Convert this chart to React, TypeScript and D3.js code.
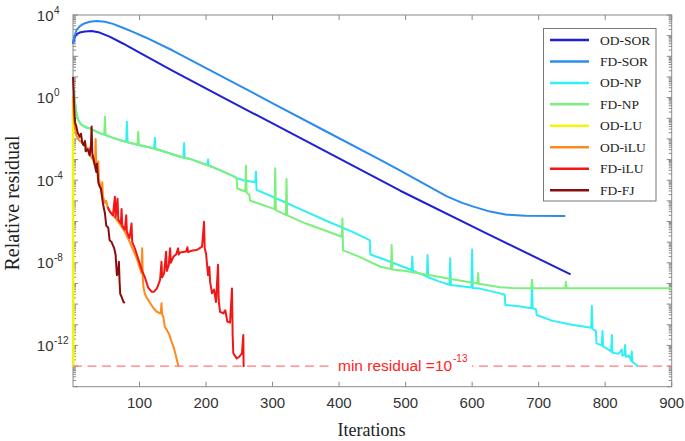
import { useEffect, useRef } from 'react';
import * as d3 from 'd3';

// every series: [iteration, log10(relative residual)]
const odSor: [number, number][] = [
  [0, 2.62], [2, 2.9], [5, 3.06], [10, 3.15], [18, 3.2], [28, 3.22], [40, 3.15], [55, 2.95],
  [75, 2.62], [100, 2.18], [150, 1.3], [233, -0.12], [350, -2.1], [492, -4.51], [620, -6.55], [748, -8.56],
];
const fdSor: [number, number][] = [
  [0, 2.6], [2, 2.95], [5, 3.25], [10, 3.45], [16, 3.58], [25, 3.67], [36, 3.71], [48, 3.67],
  [60, 3.57], [75, 3.38], [90, 3.18], [110, 2.9], [150, 2.28], [200, 1.43], [291, -0.12], [380, -1.63],
  [462, -3.02], [492, -3.54], [530, -4.22], [562, -4.78], [585, -5.1], [602, -5.28], [627, -5.52],
  [652, -5.67], [680, -5.72], [740, -5.73],
];
const odNp: [number, number][] = [
  [1, 0.5], [3, -0.2], [5, -0.75], [8, -1.1], [12, -1.3], [18, -1.42], [26, -1.5], [40, -1.72],
  [60, -1.95], [75, -2.1], [80, -2.15], [81, -1.17], [82, -2.16], [97, -2.28], [116, -2.42], [122, -2.47],
  [123, -1.96], [124, -2.48], [140, -2.65], [160, -2.85], [166, -2.9], [167, -2.2], [168, -2.91],
  [176, -2.97], [200, -3.25], [202, -3.27], [203, -3.0], [204, -3.28], [220, -3.5], [241, -3.8],
  [246, -3.9], [256, -4.0], [274, -4.1], [275, -3.59], [276, -4.47], [300, -4.8], [340, -5.38],
  [380, -5.95], [420, -6.5], [446, -6.9], [447, -7.6], [462, -7.77], [509, -8.35], [510, -7.7],
  [511, -8.38], [532, -8.67], [533, -7.62], [534, -8.7], [550, -8.9], [566, -9.06], [567, -7.78],
  [568, -9.07], [599, -9.2], [600, -7.35], [601, -9.22], [612, -9.25], [642, -9.48], [649, -9.55],
  [650, -10.04], [670, -10.1], [689, -10.2], [690, -8.83], [691, -10.2], [696, -10.25], [697, -10.53],
  [720, -10.8], [750, -11.0], [779, -11.15], [780, -10.09], [781, -11.2], [786, -11.3], [787, -11.9],
  [795, -12.0], [796, -11.3], [797, -12.05], [805, -12.2], [809, -12.3], [810, -11.5], [811, -12.35],
  [820, -12.4], [825, -12.2], [826, -12.5], [829, -12.45], [830, -11.98], [831, -12.55], [836, -12.5],
  [839, -12.75], [840, -12.3], [841, -12.8], [845, -12.9], [850, -13.03],
];
const fdNp: [number, number][] = [
  [1, 0.5], [3, -0.2], [5, -0.75], [8, -1.1], [12, -1.3], [18, -1.42], [26, -1.5], [40, -1.72],
  [47, -1.78], [48, -0.93], [49, -1.8], [60, -1.95], [75, -2.1], [97, -2.28], [98, -1.65], [99, -2.3],
  [116, -2.42], [140, -2.65], [160, -2.85], [176, -2.97], [200, -3.25], [220, -3.5], [241, -3.8],
  [246, -3.9], [247, -4.4], [259, -4.55], [260, -3.3], [261, -4.6], [265, -4.7], [266, -4.98],
  [303, -5.4], [304, -3.42], [305, -5.45], [320, -5.68], [321, -3.94], [322, -5.7], [350, -6.1],
  [380, -6.45], [404, -6.74], [405, -5.85], [406, -7.4], [430, -7.7], [462, -8.19], [478, -8.3],
  [479, -7.14], [480, -8.32], [500, -8.4], [537, -8.6], [570, -8.8], [608, -9.0], [609, -8.5],
  [610, -9.02], [642, -9.18], [660, -9.22], [689, -9.23], [690, -8.83], [691, -9.23], [740, -9.23],
  [741, -8.92], [742, -9.23], [900, -9.23],
];
const odLu: [number, number][] = [[0, 0], [0.6, -13.05]];
const odIlu: [number, number][] = [
  [0, 0.05], [1, -0.8], [3, -1.5], [5, -1.85], [8, -2.0], [10, -2.1], [13, -2.15], [15, -2.25],
  [18, -2.15], [20, -2.4], [22, -2.5], [24, -2.45], [26, -2.8], [28, -2.9], [30, -3.0], [32, -3.2],
  [33, -3.3], [34, -2.0], [35, -3.4], [37, -3.6], [38, -3.1], [39, -3.9], [41, -4.3], [43, -4.6],
  [44, -4.1], [45, -4.8], [48, -5.1], [50, -5.0], [52, -5.3], [56, -5.55], [60, -5.7], [63, -5.8],
  [66, -5.93], [70, -6.1], [72, -6.2], [75, -6.35], [78, -6.5], [81, -6.7], [84, -6.9], [88, -7.2],
  [92, -7.5], [96, -7.8], [100, -8.2], [103, -8.5], [104, -7.3], [105, -8.8], [106, -9.2], [108, -9.5],
  [111, -9.7], [115, -9.9], [121, -10.2], [126, -10.37], [131, -10.45], [132, -10.4], [133, -9.96],
  [134, -10.5], [136, -10.65], [138, -11.1], [141, -11.25], [145, -11.5], [148, -11.8], [151, -12.06],
  [154, -12.4], [156, -12.7], [159, -13.05],
];
const fdIlu: [number, number][] = [
  [52, -5.3], [56, -5.55], [60, -5.7], [63, -4.8], [64, -5.8], [67, -4.9], [68, -5.9], [72, -6.1],
  [73, -5.4], [74, -6.2], [78, -6.4], [80, -5.7], [81, -6.5], [85, -6.8], [88, -6.1], [89, -7.0],
  [93, -7.3], [96, -7.6], [100, -8.0], [104, -8.4], [108, -8.7], [113, -9.2], [118, -9.4], [122, -9.4],
  [126, -9.25], [129, -9.0], [131, -8.8], [133, -7.95], [134, -8.7], [137, -8.5], [140, -7.46],
  [141, -8.4], [144, -8.1], [146, -7.3], [147, -8.0], [151, -7.7], [155, -7.6], [158, -7.3], [159, -7.6],
  [161, -7.5], [170, -7.45], [172, -7.25], [173, -7.48], [180, -7.4], [186, -7.38], [190, -7.3],
  [194, -7.22], [197, -6.01], [198, -7.3], [200, -7.55], [203, -8.6], [205, -8.2], [206, -8.9],
  [209, -9.48], [212, -9.3], [215, -9.9], [218, -8.1], [219, -9.8], [221, -10.37], [226, -10.45],
  [229, -10.3], [232, -10.85], [236, -10.9], [239, -9.24], [240, -11.5], [241, -12.38], [246, -12.63],
  [250, -12.55], [254, -12.38], [256, -11.5], [256.5, -13.05],
];
const fdFj: [number, number][] = [
  [0, 1.0], [1, 0.3], [2, -0.6], [3, -1.2], [5, -1.4], [7, -1.7], [10, -1.9], [12, -1.75], [14, -2.2],
  [16, -2.3], [18, -2.1], [19, -2.6], [22, -2.5], [25, -2.8], [27, -2.3], [28, -1.4], [29, -2.7],
  [31, -3.0], [33, -3.3], [35, -3.6], [36, -3.2], [38, -4.1], [40, -4.3], [42, -4.4], [44, -4.9],
  [46, -5.3], [48, -5.6], [50, -6.2], [53, -6.3], [55, -6.9], [58, -7.0], [62, -7.3], [64, -7.6],
  [66, -8.6], [68, -8.4], [69, -7.95], [70, -8.9], [71, -9.5], [73, -9.65], [76, -9.9], [78, -9.95],
];

const seriesNames = ['OD-SOR', 'FD-SOR', 'OD-NP', 'FD-NP', 'OD-LU', 'OD-iLU', 'FD-iLU', 'FD-FJ'];
const seriesData = [odSor, fdSor, odNp, fdNp, odLu, odIlu, fdIlu, fdFj];
const seriesColors = ['#1f1fd6', '#2b8cf0', '#2ff0f5', '#7cf07c', '#f5f50a', '#ff8a1c', '#f21616', '#8a0c0c'];

const xTicks = [100, 200, 300, 400, 500, 600, 700, 800, 900];
const yLabelExps = [4, 0, -4, -8, -12];
const minResidualExp = -13;

const App = () => {
  const chartRef = useRef<SVGSVGElement>(null);

  useEffect(() => {
    if (!chartRef.current) return;
    const svg = d3.select(chartRef.current);
    svg.selectAll('*').remove();

    const left = 73, right = 671.7, top = 15, bottom = 386.7;
    const x = d3.scaleLinear().domain([0, 900]).range([left, right]);
    const y = d3.scaleLog().domain([1e-14, 1e4]).range([bottom, top]);
    const axisColor = '#8a8a8a';
    const sans = '"Liberation Sans", Arial, sans-serif';
    const serif = '"Liberation Serif", "Times New Roman", serif';

    svg.append('rect').attr('width', 685).attr('height', 441).attr('fill', '#fff');

    // box
    svg.append('rect')
      .attr('x', left).attr('y', top)
      .attr('width', right - left).attr('height', bottom - top)
      .attr('fill', 'none').attr('stroke', axisColor).attr('stroke-width', 1);

    // x ticks (bottom and top, inward)
    const g = svg.append('g').attr('stroke', axisColor).attr('stroke-width', 1);
    xTicks.forEach(t => {
      g.append('line').attr('x1', x(t)).attr('x2', x(t)).attr('y1', bottom).attr('y2', bottom - 5);
      g.append('line').attr('x1', x(t)).attr('x2', x(t)).attr('y1', top).attr('y2', top + 5);
    });
    svg.selectAll('.xlab')
      .data(xTicks)
      .enter()
      .append('text')
      .attr('x', d => x(d))
      .attr('y', 408)
      .attr('text-anchor', 'middle')
      .style('font-family', sans)
      .style('font-size', '15px')
      .attr('fill', '#333')
      .text(d => d.toString());

    // y ticks: decades and minor ticks
    for (let e = -14; e <= 4; e++) {
      const yy = y(Math.pow(10, e));
      g.append('line').attr('x1', left).attr('x2', left + 5).attr('y1', yy).attr('y2', yy);
      g.append('line').attr('x1', right).attr('x2', right - 5).attr('y1', yy).attr('y2', yy);
      if (e < 4) {
        for (let m = 2; m <= 9; m++) {
          const ym = y(m * Math.pow(10, e));
          g.append('line').attr('x1', left).attr('x2', left + 3).attr('y1', ym).attr('y2', ym);
          g.append('line').attr('x1', right).attr('x2', right - 3).attr('y1', ym).attr('y2', ym);
        }
      }
    }
    yLabelExps.forEach(e => {
      const yy = y(Math.pow(10, e));
      svg.append('text')
        .attr('x', 53.5).attr('y', yy + 5.5)
        .attr('text-anchor', 'end')
        .style('font-family', sans).style('font-size', '15px')
        .attr('fill', '#333')
        .text('10');
      svg.append('text')
        .attr('x', 54).attr('y', yy - 1.5)
        .style('font-family', sans).style('font-size', '10px')
        .attr('fill', '#333')
        .text(e.toString());
    });

    // series
    const line = d3.line<[number, number]>()
      .x(d => x(d[0]))
      .y(d => y(Math.pow(10, d[1])));
    seriesData.forEach((data, i) => {
      svg.append('path')
        .datum(data)
        .attr('d', line)
        .attr('fill', 'none')
        .attr('stroke', seriesColors[i])
        .attr('stroke-width', i === 4 ? 2.5 : 2)
        .attr('stroke-linejoin', 'round');
    });

    // min residual line
    const yMin = y(Math.pow(10, minResidualExp));
    svg.append('line')
      .attr('x1', left).attr('x2', right)
      .attr('y1', yMin).attr('y2', yMin)
      .attr('stroke', '#ff7b7b').attr('stroke-width', 1.2)
      .attr('stroke-dasharray', '9,5.5');
    svg.append('rect')
      .attr('x', 332).attr('y', yMin - 12)
      .attr('width', 140).attr('height', 14)
      .attr('fill', '#fff');
    svg.append('text')
      .attr('x', 338).attr('y', yMin + 5)
      .style('font-family', sans).style('font-size', '15.5px')
      .attr('fill', '#ff2222')
      .text('min residual =10');
    svg.append('text')
      .attr('x', 453).attr('y', yMin - 4.5)
      .style('font-family', sans).style('font-size', '10px')
      .attr('fill', '#ff2222')
      .text(minResidualExp.toString());

    // legend
    const lg = svg.append('g');
    lg.append('rect')
      .attr('x', 543.5).attr('y', 28.5)
      .attr('width', 112.5).attr('height', 172.5)
      .attr('fill', '#fff').attr('stroke', '#777').attr('stroke-width', 1);
    seriesNames.forEach((name, i) => {
      const ly = 40 + i * 21.45;
      lg.append('line')
        .attr('x1', 550).attr('x2', 589)
        .attr('y1', ly).attr('y2', ly)
        .attr('stroke', seriesColors[i]).attr('stroke-width', 2.5);
      lg.append('text')
        .attr('x', 600).attr('y', ly + 4.5)
        .style('font-family', serif).style('font-size', '13.5px')
        .attr('fill', '#222')
        .text(name);
    });

    // axis titles
    svg.append('text')
      .attr('x', 371.5).attr('y', 436)
      .attr('text-anchor', 'middle')
      .style('font-family', serif).style('font-size', '18px')
      .attr('fill', '#222')
      .text('Iterations');
    svg.append('text')
      .attr('transform', 'translate(19,203) rotate(-90)')
      .attr('text-anchor', 'middle')
      .style('font-family', serif).style('font-size', '20px')
      .attr('fill', '#222')
      .text('Relative residual');
  }, []);

  return (
    <svg
      ref={chartRef}
      width={685}
      height={441}
      style={{ position: 'absolute', left: 0, top: 0, display: 'block' }}
    />
  );
};

export default App;
